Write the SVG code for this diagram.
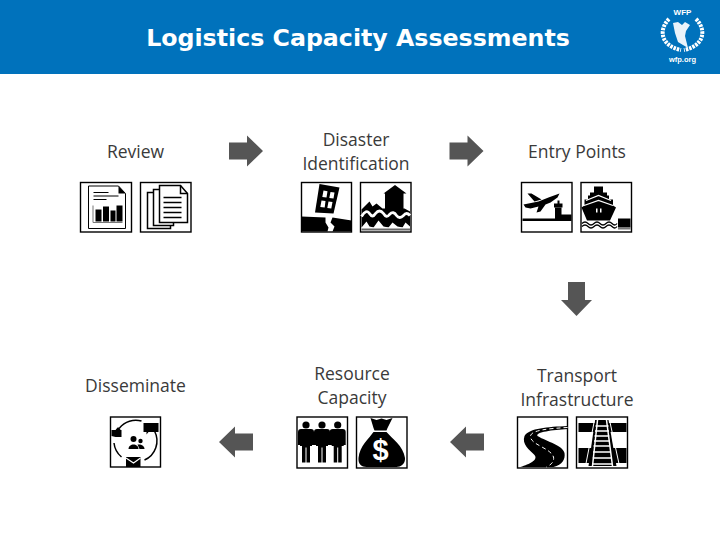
<svg xmlns="http://www.w3.org/2000/svg" width="720" height="540" viewBox="0 0 720 540">
<style>
.t{font-family:"Open Sans","Liberation Sans",sans-serif;font-size:17.500px;fill:#3a3a3a;text-anchor:middle}
.f{fill:#fff;stroke:#000;stroke-width:1.400}
.k{fill:#000}.w{fill:#fff}
.l{fill:none;stroke:#000}
.lw{fill:none;stroke:#fff}
</style>
<defs>
<path id="arr" d="M-17-8.500H1V-15.500L17 0L1 15.500V8.500H-17Z" fill="#555"/>
<g id="person">
<circle class="k" cx="7" cy="3.500" r="3.600"/>
<path class="k" d="M2 7.500H12Q15 7.500 15 10.500V23.500H13V24.500H11V41H7.500V26H6.500V41H3V24.500H1V23.500H-1V10.500Q-1 7.500 2 7.500Z"/>
</g>
</defs>
<rect width="720" height="74" fill="#0072bc"/>
<text x="358" y="46" font-family="'DejaVu Sans',sans-serif" font-weight="700" font-size="23.700" fill="#fff" text-anchor="middle">Logistics Capacity Assessments</text>
<g id="logo">
<text x="682.500" y="15" font-family="'Liberation Sans',sans-serif" font-weight="700" font-size="8" fill="#fff" text-anchor="middle">WFP</text>
<path d="M669 19C658 30 661 46 681 50M696 19C707 30 704 46 684 50" fill="none" stroke="#fff" stroke-width="4" stroke-dasharray="2.500 1"/>
<path d="M673 23L678 22L682 25L685 22L690 25L686 31L685 36L688 48L678 42L675 33Z" fill="#eaf3fa"/>
<text x="682.500" y="61.500" font-family="'Liberation Sans',sans-serif" font-weight="700" font-size="7.500" fill="#fff" text-anchor="middle">wfp.org</text>
</g>
<g id="connectors">
<use href="#arr" x="246" y="151"/>
<use href="#arr" x="466.500" y="151"/>
<use href="#arr" transform="translate(576.500 299) rotate(90)"/>
<use href="#arr" transform="translate(467 442) rotate(180)"/>
<use href="#arr" transform="translate(236 442) rotate(180)"/>
</g>
<g id="review">
<text class="t" x="135.500" y="157.500">Review</text>
<g transform="translate(80.500 182.500)">
<rect class="f" width="51" height="49.500"/>
<path d="M8 3.500H38L45 11V46H8Z" fill="#fff" stroke="#000" stroke-width="1"/>
<path class="k" d="M38 3.500L45 11H38Z"/>
<path class="l" d="M13 10H28M13 13.500H38M13 17H26" stroke-width="1"/>
<path d="M12.500 23V40H42" fill="none" stroke="#777"/>
<path class="k" d="M15 27H21V39H15ZM22.500 24H28.500V39H22.500ZM30 28H35V39H30ZM36 23H42V39H36Z"/>
</g>
<g transform="translate(140.500 182.500)">
<rect class="f" width="50.500" height="49.500"/>
<path d="M7 10H30V46H7Z" class="w" stroke="#000" stroke-width="1.500"/>
<path d="M13 7H33V43H13Z" class="w" stroke="#000" stroke-width="1.500"/>
<path d="M19 3H40L47 11V40H19Z" class="w" stroke="#000" stroke-width="1.500"/>
<path d="M40 3V11H47" class="l" stroke-width="1.500"/>
<path class="l" d="M23 15H41M23 20H41M23 25H41M23 30H41M23 35H41" stroke-width="1.300"/>
</g>
</g>
<g id="disaster">
<text class="t" x="356" y="146">Disaster</text>
<text class="t" x="356" y="170">Identification</text>
<g transform="translate(301.500 182.500)">
<rect class="f" width="50" height="49.500"/>
<path class="k" d="M18 1.500L38 5L32 31L13.500 30Z"/>
<path class="w" d="M22 8L26 8.700L25 15L20.800 14.500ZM29 9.500L33 10L32 16L27.800 15.500ZM20 18L24 18.500L23.200 25L18.800 24.500ZM27 19L31 19.500L29.800 26L25.800 25.500Z"/>
<path class="k" d="M0 34L24 35L24 40L27 45L26 49H0ZM31 35L50 38V49H31L33 44L29 40Z"/>
</g>
<g transform="translate(360.500 182.500)">
<rect class="f" width="50.500" height="49.500"/>
<path class="k" d="M23 11L34.500 2.500L46 11H43V28H24.500V11Z"/>
<path class="k" d="M1 27L9 19L12 24L16 21L22 26H44L49.500 29V45H1Z"/>
<path class="lw" d="M1 34Q6 26 9 31Q12 36 15 31Q19 26 23 31Q26 36 29 32Q33 28 36 33Q39 37 43 33Q46 29 49.500 33" stroke-width="2.800"/>
<path class="w" d="M1 45L6 39L9 44L13 45L18 38L23 44L28 45L32 40L37 44L42 45L45 40L49.500 44V46H1Z"/>
<path fill="#666" d="M1 46H49.500V48H1Z"/>
</g>
</g>
<g id="entry-points">
<text class="t" x="577" y="157.500">Entry Points</text>
<g transform="translate(521.500 182.500)">
<rect class="f" width="50.500" height="49.500"/>
<path class="k" d="M1 36H50V38.500H1ZM33.500 25H40V32H50V36H33.500Z"/>
<path class="k" d="M32.500 21H41V25H32.500ZM36 18H38V21H36Z"/>
<path class="k" d="M2 22L17 19L27 15L38 11L36 15L29 20L24 22L19 29L15 30L17 24L9 26L4 25ZM6 11L10 11L20 17L13 19Z"/>
</g>
<g transform="translate(581 182.500)">
<rect class="f" width="50.500" height="49.500"/>
<path class="k" d="M13 4H22V10H26V13H28V17H32V23L35 25L29 38H6L0.500 25L3.500 23V17H7V13H9V10H13Z" transform="translate(0 0)"/>
<path class="lw" d="M5 18L17.500 13L30 18M3 23L17.500 18L32 23" stroke-width="1.300"/>
<path class="w" d="M15 26H16.500V30H15ZM19 26H20.500V30H19Z"/>
<path class="l" d="M1 41Q4 38 7 41T13 41T19 41T25 41T31 41T36 41M1 44Q4 41 7 44T13 44T19 44T25 44T31 44T36 44" stroke-width="1.300"/>
<path class="k" d="M37 36H49.500V45H37Z"/>
<path fill="#777" d="M37 45H49.500V47H37Z"/>
</g>
</g>
<g id="transport-infrastructure">
<text class="t" x="577" y="382">Transport</text>
<text class="t" x="577" y="406">Infrastructure</text>
<g transform="translate(517.500 417)">
<rect class="f" width="50" height="51"/>
<path class="k" d="M50 9C30 10 12 11 7 19C4 27 12 33 17 38C21 43 12 47 3 50H36C45 48 48 42 47 36C45 28 30 25 20 19C18 15 35 13 50 12Z"/>
<path class="lw" d="M50 10.500C32 11.500 12 13 13 20C14 28 33 31 36 40C37 45 33 48 29 50" stroke-width="1" stroke-dasharray="4 3"/>
</g>
<g transform="translate(576.500 417)">
<rect class="f" width="51" height="51"/>
<path class="k" d="M2 6H50V15H2ZM2 31H50V46H2Z"/>
<path class="k" d="M18.500 3H32L40 49H12Z"/>
<path class="lw" d="M21 3L16 49M30 3L36 49M19 9H32M18.500 14H32.500M18 19H33M17.500 24H33.500M17 29H34M16.500 35H34.500M16 41H35M15.500 47H36" stroke-width="1.500"/>
<path class="lw" d="M18 3L9 49M33 3L43 49" stroke-width="1"/>
</g>
</g>
<g id="resource-capacity">
<text class="t" x="352" y="380">Resource</text>
<text class="t" x="352" y="404">Capacity</text>
<g transform="translate(297 417)">
<rect class="f" width="50.500" height="51"/>
<use href="#person" x="2" y="4.500"/>
<use href="#person" x="18" y="4.500"/>
<use href="#person" x="33.700" y="4.500"/>
</g>
<g transform="translate(356.500 417)">
<rect class="f" width="50.500" height="51"/>
<path class="k" d="M14 1L20 3L25 1.500L30 3L36 1L31 11L30 13.500H18L17 11ZM17 15H30C35 21 47 29 48.500 41C49 47 44 50 40 50H10C5 50 1.500 47 2 41C3 29 13 21 17 15Z"/>
<text x="24" y="43" font-family="'Liberation Sans',sans-serif" font-weight="700" font-size="29" fill="#fff" text-anchor="middle">$</text>
</g>
</g>
<g id="disseminate">
<text class="t" x="135.500" y="391.500">Disseminate</text>
<g transform="translate(110.500 417)">
<rect class="f" width="50" height="50"/>
<path class="l" d="M9 11A21 21 0 0 1 31 4M44 14A21 21 0 0 1 34 43M3.500 26A21 21 0 0 0 11 40" stroke-width="1.500"/>
<path class="k" d="M33 6H48V15H38L36 17.500V15H33Z"/>
<path class="k" d="M1 13H5L7 10.500H9L10 13H11V20H5L1 19Z"/>
<path class="k" d="M15.500 40H30V50H15.500Z"/>
<path class="lw" d="M15.500 41L23 46L30 41" stroke-width="1.200"/>
<circle class="k" cx="23" cy="22" r="3"/>
<path class="k" d="M18 32C18 26 28 26 28 32Z"/>
<circle class="k" cx="30" cy="24" r="2.200"/>
<path class="k" d="M27 27.500C31 27 34 29 34 32H29Z"/>
</g>
</g>
</svg>
